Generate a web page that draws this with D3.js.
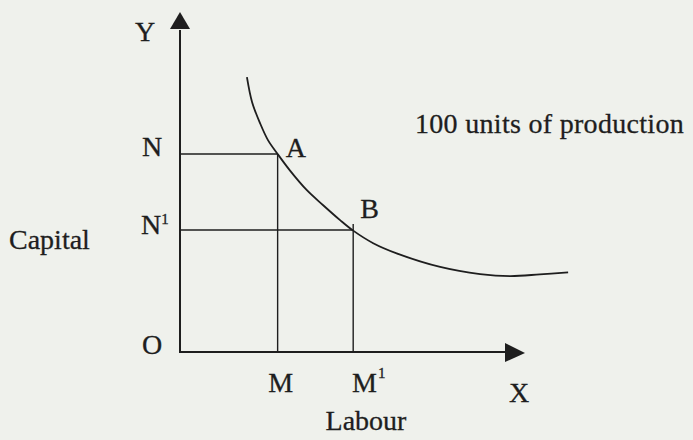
<!DOCTYPE html>
<html>
<head>
<meta charset="utf-8">
<script src="https://cdn.jsdelivr.net/npm/d3@7"></script>
<style>
  body { margin: 0; background: #eff1ec; }
  svg { display: block; }
  text { font-family: "Liberation Serif", "Times New Roman", serif; fill: #1e1e1e; stroke: #1e1e1e; stroke-width: 0.3; }
</style>
</head>
<body>
<svg width="693" height="440"></svg>
<script>
// isoquant points (labour, capital) in chart units
var labour  = [1.94, 2.09, 2.32, 2.55, 2.83, 3.19, 3.67, 4.15, 4.64, 5.02, 5.60, 6.28, 7.54, 8.70, 9.57, 10.43, 11.25];
var capital = [8.11, 7.37, 6.75, 6.25, 5.84, 5.35, 4.78, 4.33, 3.89, 3.58, 3.21, 2.91, 2.51, 2.30, 2.24, 2.29, 2.35];
// the two marked combinations
var pointNames = ["A", "B"];
var pointLabour = [2.83, 5.02];
var pointCapital = [5.84, 3.60];
var xTickNames = ["M", "M"];
var yTickNames = ["N", "N"];
var curveLabel = "100 units of production";

var svg = d3.select("svg");
var ink = "#1e1e1e";

var x = d3.scaleLinear().domain([0, 10]).range([180, 525]);
var y = d3.scaleLinear().domain([0, 10]).range([352, 13]);

var curveData = labour.map(function(d, i) { return [d, capital[i]]; });

// axes
svg.append("line")
  .attr("x1", x(0)).attr("y1", y(0))
  .attr("x2", x(0)).attr("y2", y(9.5))
  .attr("stroke", ink).attr("stroke-width", 2);
svg.append("line")
  .attr("x1", x(0) - 1).attr("y1", y(0))
  .attr("x2", x(9.5)).attr("y2", y(0))
  .attr("stroke", ink).attr("stroke-width", 2);

// arrow heads
svg.append("path")
  .attr("d", "M" + x(0) + "," + (y(10) - 1) + "L" + (x(0) - 10) + "," + (y(10) + 16) + "L" + (x(0) + 10) + "," + (y(10) + 16) + "Z")
  .attr("fill", ink);
svg.append("path")
  .attr("d", "M" + x(10) + "," + (y(0) + 1) + "L" + (x(10) - 20) + "," + (y(0) - 9) + "L" + (x(10) - 20) + "," + (y(0) + 10) + "Z")
  .attr("fill", ink);

// guide lines
pointNames.forEach(function(n, i) {
  svg.append("line")
    .attr("x1", x(0)).attr("y1", y(pointCapital[i]))
    .attr("x2", x(pointLabour[i])).attr("y2", y(pointCapital[i]))
    .attr("stroke", ink).attr("stroke-width", 1.4);
  svg.append("line")
    .attr("x1", x(pointLabour[i])).attr("y1", y(pointCapital[i]) - (i == 1 ? 6 : 0))
    .attr("x2", x(pointLabour[i])).attr("y2", y(0))
    .attr("stroke", ink).attr("stroke-width", 1.4);
});

// isoquant
var line = d3.line()
  .x(function(d) { return x(d[0]); })
  .y(function(d) { return y(d[1]); })
  .curve(d3.curveCatmullRom);
svg.append("path")
  .datum(curveData)
  .attr("d", line)
  .attr("fill", "none")
  .attr("stroke", ink)
  .attr("stroke-width", 1.8);

// labels
svg.append("text").attr("x", 145).attr("y", 41).attr("text-anchor", "middle").attr("font-size", 28).text("Y");
svg.append("text").attr("x", 519).attr("y", 402).attr("text-anchor", "middle").attr("font-size", 28).text("X");
svg.append("text").attr("x", 152).attr("y", 354).attr("text-anchor", "middle").attr("font-size", 28).text("O");

svg.append("text").attr("x", x(pointLabour[0]) + 8).attr("y", y(pointCapital[0]) + 3).attr("font-size", 28).text(pointNames[0]);
svg.append("text").attr("x", x(pointLabour[1]) + 7).attr("y", y(pointCapital[1]) - 12).attr("font-size", 28).text(pointNames[1]);

svg.append("text").attr("x", 152).attr("y", y(pointCapital[0]) + 2).attr("text-anchor", "middle").attr("font-size", 28).text(yTickNames[0]);
var n1 = svg.append("text").attr("x", 141).attr("y", y(pointCapital[1]) + 4).attr("font-size", 28);
n1.append("tspan").text(yTickNames[1]);
n1.append("tspan").attr("font-size", 15).attr("dy", -10).text("1");

svg.append("text").attr("x", x(pointLabour[0]) + 3).attr("y", 392).attr("text-anchor", "middle").attr("font-size", 28).text(xTickNames[0]);
var m1 = svg.append("text").attr("x", 352).attr("y", 392).attr("font-size", 28);
m1.append("tspan").text(xTickNames[1]);
m1.append("tspan").attr("font-size", 15).attr("dx", 1).attr("dy", -14).text("1");

svg.append("text").attr("x", 366).attr("y", 430).attr("text-anchor", "middle").attr("font-size", 28).text("Labour");
svg.append("text").attr("x", 9).attr("y", 249).attr("font-size", 28).text("Capital");
svg.append("text").attr("x", 415).attr("y", 133).attr("font-size", 28).attr("letter-spacing", 0.3).text(curveLabel);
</script>
</body>
</html>
